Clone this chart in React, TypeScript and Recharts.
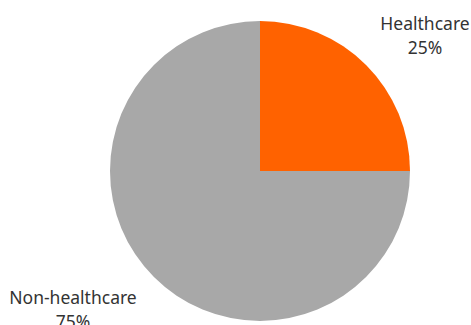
import { PieChart, Pie, Cell } from 'recharts';

const categories = ['Healthcare', 'Non-healthcare'];
const shares = [25, 75];
const colors = ['#FF6200', '#A8A8A8'];

const data = categories.map((name, i) => ({ name, value: shares[i] }));

const RADIAN = Math.PI / 180;

const renderLabel = (props: any) => {
  const { cx, cy, outerRadius, midAngle, index } = props;
  const right = Math.cos(-midAngle * RADIAN) > 0;
  const x = right ? cx + outerRadius + 15 : cx - outerRadius - 37;
  const y = right ? cy - outerRadius + 9 : cy + outerRadius - 17;
  return (
    <text
      x={x}
      y={y}
      textAnchor="middle"
      fill="#333333"
      fontSize={17.5}
      fontFamily="'Noto Sans', sans-serif"
    >
      <tspan x={x} dy={0}>{categories[index]}</tspan>
      <tspan x={x} dy={24}>{`${shares[index]}%`}</tspan>
    </text>
  );
};

export default function App() {
  return (
    <div style={{ position: 'absolute', left: 0, top: 0, width: 471, height: 325, background: '#fff' }}>
      <PieChart width={471} height={325} margin={{ top: 0, right: 0, bottom: 0, left: 0 }}>
        <Pie
          data={data}
          dataKey="value"
          nameKey="name"
          cx={260}
          cy={171}
          outerRadius={150}
          startAngle={90}
          endAngle={-270}
          stroke="none"
          label={renderLabel}
          labelLine={false}
          isAnimationActive={false}
        >
          {data.map((entry, index) => (
            <Cell key={`cell-${index}`} fill={colors[index]} />
          ))}
        </Pie>
      </PieChart>
    </div>
  );
}
